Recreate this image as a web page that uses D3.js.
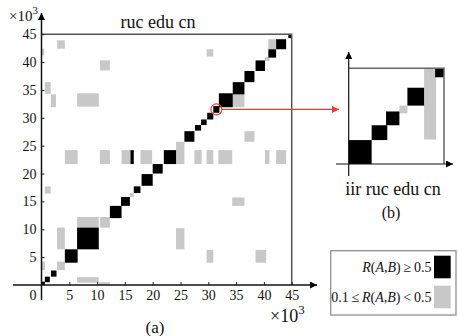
<!DOCTYPE html>
<html>
<head>
<meta charset="utf-8">
<script src="https://cdn.jsdelivr.net/npm/d3@7"></script>
<style>
  body { margin: 0; background: #fff; }
  svg { display: block; font-family: "Liberation Serif", "DejaVu Serif", serif; }
</style>
</head>
<body>
<div id="chart"></div>
<script>
// blocks as [x0, x1, y0, y1] in units of 10^3
const strongBlocks = [
  [0, 0.6, 0, 0.6], [0.6, 1.5, 0.5, 1.5], [1.7, 2.7, 1.5, 2.6],
  [4.2, 6.5, 4.0, 6.4], [6.4, 10.3, 6.4, 10.3], [12.3, 14.4, 12.0, 14.2],
  [14.3, 15.9, 14.2, 15.8], [16.6, 17.8, 16.5, 17.7], [18.0, 20.0, 17.8, 19.9],
  [20.0, 21.8, 20.0, 21.7], [22.0, 24.2, 21.7, 24.2], [16.0, 16.6, 21.7, 24.2],
  [25.7, 27.5, 25.7, 27.6], [27.6, 28.7, 27.7, 28.7], [28.7, 29.7, 28.7, 29.7],
  [29.8, 30.9, 29.7, 30.9], [30.9, 32.0, 30.9, 32.1], [31.9, 34.4, 31.9, 34.4],
  [34.4, 36.5, 34.2, 36.4], [36.5, 38.3, 36.4, 38.4], [38.5, 40.2, 38.4, 40.3],
  [40.8, 42.2, 40.8, 42.3], [42.2, 44.0, 42.3, 44.1], [44.4, 45.0, 44.3, 45.0]
];
const weakBlocks = [
  [2.8, 4.2, 42.4, 43.9], [0, 0.5, 41.2, 42.4], [10.5, 12.3, 38.5, 40.3],
  [0.6, 1.65, 34.3, 36.4], [1.7, 2.6, 31.9, 34.2], [6.4, 10.3, 32.0, 34.4],
  [40.8, 42.2, 42.3, 44.1], [40.2, 41.0, 40.2, 40.9], [29.7, 30.9, 41.0, 42.3],
  [34.4, 36.5, 31.9, 34.2], [36.5, 38.3, 25.7, 27.6], [24.2, 25.7, 21.7, 25.7],
  [4.2, 6.5, 21.7, 24.2], [10.5, 12.3, 21.7, 24.2], [14.4, 16.0, 21.7, 24.2],
  [17.8, 19.9, 21.7, 24.2], [27.5, 28.8, 21.7, 24.2], [29.7, 30.9, 21.7, 24.2],
  [31.8, 34.3, 21.7, 24.2], [40.2, 41.0, 21.7, 24.2], [42.2, 44.0, 21.7, 24.2],
  [15.9, 16.6, 15.8, 16.5], [10.5, 12.3, 10.3, 12.2], [6.4, 10.3, 10.3, 12.2],
  [0.6, 1.65, 16.4, 17.7], [2.8, 4.2, 6.4, 10.3], [2.8, 4.2, 2.7, 4.2],
  [0, 0.6, 2.7, 4.2], [6.4, 10.3, 0.4, 1.4], [10.3, 12.3, 0, 0.5],
  [34.3, 36.5, 14.2, 15.7], [24.2, 25.7, 6.4, 10.2], [29.7, 30.9, 4.0, 6.3],
  [38.5, 40.4, 4.0, 6.3]
];
const tickValues = [0, 5, 10, 15, 20, 25, 30, 35, 40, 45];
const zoomPoint = [31.45, 31.5];

// inset (b), in percent of the zoomed window
const insetStrong = [
  [0, 24.1, 0, 25], [24.1, 40.5, 25, 40.5], [39.2, 53.2, 40.5, 54.9],
  [61.6, 79.1, 61, 79.7], [90.7, 100, 90.6, 100]
];
const insetWeak = [[53.2, 61.6, 53, 61], [79.1, 91.7, 25.6, 100]];

const BLACK = "#000", GRAY = "#c8c8c8", RED = "#ee3b3b";

const svg = d3.select("#chart").append("svg")
  .attr("width", 458).attr("height", 336);

const defs = svg.append("defs");
function arrowMarker(id, color) {
  defs.append("marker").attr("id", id)
    .attr("viewBox", "0 0 10 10").attr("refX", 10).attr("refY", 5)
    .attr("markerWidth", 8).attr("markerHeight", 7)
    .attr("markerUnits", "userSpaceOnUse").attr("orient", "auto")
    .append("path").attr("d", "M0,0L10,5L0,10Z").attr("fill", color);
}
arrowMarker("arr", "#000");
arrowMarker("arrRed", RED);

// main plot (a)
const x = d3.scaleLinear().domain([0, 45]).range([41.5, 291.7]);
const y = d3.scaleLinear().domain([0, 45]).range([285, 34.2]);

function drawBlocks(g, data, sx, sy, color) {
  g.selectAll(null).data(data).enter().append("rect")
    .attr("x", d => sx(d[0]))
    .attr("y", d => sy(d[3]))
    .attr("width", d => sx(d[1]) - sx(d[0]))
    .attr("height", d => sy(d[2]) - sy(d[3]))
    .attr("fill", color);
}

const plot = svg.append("g");
drawBlocks(plot, weakBlocks, x, y, GRAY);
drawBlocks(plot, strongBlocks, x, y, BLACK);

// top and right border
svg.append("path")
  .attr("d", `M${x(0)},${y(45)}H${x(45)}V${y(0)}`)
  .attr("fill", "none").attr("stroke", "#555").attr("stroke-width", 1.5);

// axes
const xAxis = svg.append("g").attr("transform", `translate(0,${y(0)})`)
  .call(d3.axisBottom(x).tickValues(tickValues).tickSize(-3).tickPadding(5)
    .tickFormat(d3.format("d")));
const yAxis = svg.append("g").attr("transform", `translate(${x(0)},0)`)
  .call(d3.axisLeft(y).tickValues(tickValues.slice(1)).tickSize(-3).tickPadding(5)
    .tickFormat(d3.format("d")));
[xAxis, yAxis].forEach(a => {
  a.select(".domain").remove();
  a.selectAll("text").attr("font-family", "Liberation Serif").attr("font-size", 14).attr("fill", "#111");
  a.selectAll(".tick line").attr("stroke", "#222");
});
xAxis.selectAll(".tick").filter(d => d === 0).select("text").attr("dx", -9);

svg.append("line").attr("x1", 13).attr("x2", 317).attr("y1", y(0)).attr("y2", y(0))
  .attr("stroke", "#111").attr("stroke-width", 1.5).attr("marker-end", "url(#arr)");
svg.append("line").attr("x1", x(0)).attr("x2", x(0)).attr("y1", 300).attr("y2", 13)
  .attr("stroke", "#111").attr("stroke-width", 1.5).attr("marker-end", "url(#arr)");

// axis multipliers and labels
function times10(tx, ty, size) {
  const t = svg.append("text").attr("x", tx).attr("y", ty)
    .attr("font-size", size).attr("fill", "#111");
  t.append("tspan").text("×10");
  t.append("tspan").attr("font-size", size * 0.72).attr("dy", -size * 0.45).text("3");
}
times10(9, 21, 15);
times10(270, 322, 18);

svg.append("text").attr("x", 158).attr("y", 28).attr("text-anchor", "middle")
  .attr("font-size", 18).attr("fill", "#111").text("ruc edu cn");
svg.append("text").attr("x", 155).attr("y", 333).attr("text-anchor", "middle")
  .attr("font-size", 17).attr("fill", "#111").text("(a)");

// zoom annotation
svg.append("circle").attr("cx", x(zoomPoint[0])).attr("cy", y(zoomPoint[1])).attr("r", 5.5)
  .attr("fill", "none").attr("stroke", RED).attr("stroke-width", 1.2);
svg.append("line").attr("x1", x(zoomPoint[0]) + 5.5).attr("x2", 339)
  .attr("y1", y(zoomPoint[1])).attr("y2", y(zoomPoint[1]))
  .attr("stroke", RED).attr("stroke-width", 1.2).attr("marker-end", "url(#arrRed)");

// inset (b)
const ix = d3.scaleLinear().domain([0, 100]).range([348.7, 444]);
const iy = d3.scaleLinear().domain([0, 100]).range([164, 68.3]);
const inset = svg.append("g");
drawBlocks(inset, insetWeak, ix, iy, GRAY);
drawBlocks(inset, insetStrong, ix, iy, BLACK);
svg.append("path")
  .attr("d", `M${ix(0)},${iy(100)}H${ix(100)}V${iy(0)}`)
  .attr("fill", "none").attr("stroke", "#666").attr("stroke-width", 1.5);
svg.append("line").attr("x1", 336).attr("x2", 453).attr("y1", iy(0)).attr("y2", iy(0))
  .attr("stroke", "#111").attr("stroke-width", 1.2).attr("marker-end", "url(#arr)");
svg.append("line").attr("x1", ix(0)).attr("x2", ix(0)).attr("y1", 176).attr("y2", 52)
  .attr("stroke", "#111").attr("stroke-width", 1.2).attr("marker-end", "url(#arr)");
svg.append("text").attr("x", 393).attr("y", 195).attr("text-anchor", "middle")
  .attr("font-size", 18).attr("fill", "#111").text("iir ruc edu cn");
svg.append("text").attr("x", 391).attr("y", 218).attr("text-anchor", "middle")
  .attr("font-size", 16).attr("fill", "#111").text("(b)");

// legend
const legendItems = [
  { color: BLACK, parts: [["R", true], ["(", false], ["A", true], [",", false], ["B", true], [")\u2009≥\u20090.5", false]] },
  { color: GRAY, parts: [["0.1\u2009≤\u2009", false], ["R", true], ["(", false], ["A", true], [",", false], ["B", true], [")\u2009<\u20090.5", false]] }
];
const legend = svg.append("g");
legend.append("rect").attr("x", 330.7).attr("y", 250.7).attr("width", 125.3).attr("height", 64.3)
  .attr("fill", "#fff").attr("stroke", "#888").attr("stroke-width", 1.2);
legendItems.forEach((item, i) => {
  const yy = 255.7 + i * 30;
  legend.append("rect").attr("x", 434).attr("y", yy).attr("width", 16.7).attr("height", 22.6)
    .attr("fill", item.color);
  const t = legend.append("text").attr("x", 431.5).attr("y", yy + 16.5)
    .attr("text-anchor", "end").attr("font-size", 14).attr("fill", "#111");
  item.parts.forEach(p => t.append("tspan").attr("font-style", p[1] ? "italic" : "normal").text(p[0]));
});
</script>
</body>
</html>
